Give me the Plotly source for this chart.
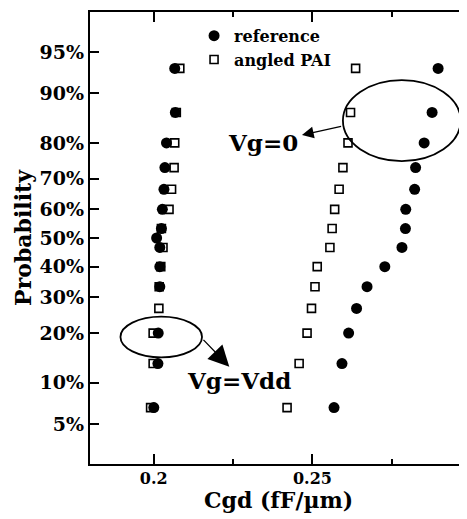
import plotly.graph_objects as go
from statistics import NormalDist

# ---------------- data ----------------
# probability (%) levels of each point
prob_vg0 = [6.67, 13.33, 20.0, 26.67, 33.33, 40.0, 46.67, 53.33, 60.0, 66.67, 73.33, 80.0, 86.67, 93.33]
prob_ref_vdd = [6.67, 13.33, 20.0, 33.33, 40.0, 46.67, 50.0, 53.33, 60.0, 66.67, 73.33, 80.0, 86.67, 93.33]
prob_pai_vdd = [6.67, 13.33, 20.0, 26.67, 33.33, 40.0, 46.67, 53.33, 60.0, 66.67, 73.33, 80.0, 86.67, 93.33]

# Cgd values (fF/um)
ref_vdd = [0.2000, 0.2013, 0.2014, 0.2019, 0.2019, 0.2019, 0.2009, 0.2024, 0.2027, 0.2032, 0.2035, 0.2040, 0.2068, 0.2066]
ref_vg0 = [0.2568, 0.2593, 0.2614, 0.2639, 0.2672, 0.2728, 0.2782, 0.2793, 0.2794, 0.2822, 0.2825, 0.2852, 0.2877, 0.2896]
pai_vdd = [0.1990, 0.1998, 0.1998, 0.2016, 0.2017, 0.2022, 0.2029, 0.2024, 0.2048, 0.2056, 0.2064, 0.2066, 0.2071, 0.2082]
pai_vg0 = [0.2420, 0.2458, 0.2483, 0.2497, 0.2508, 0.2515, 0.2555, 0.2562, 0.2570, 0.2584, 0.2596, 0.2612, 0.2620, 0.2636]

prob_ticks = [5, 10, 20, 30, 40, 50, 60, 70, 80, 90, 95]
prob_tick_text = ["5%", "10%", "20%", "30%", "40%", "50%", "60%", "70%", "80%", "90%", "95%"]
x_ticks = [0.2, 0.25]
x_tick_text = ["0.2", "0.25"]
x_minor = [0.225, 0.275]

# ---------------- helpers ----------------
nd = NormalDist()
def z(p_list):
    return [nd.inv_cdf(p / 100.0) for p in p_list]

FONT = "DejaVu Serif"
BLACK = "black"

fig = go.Figure()

fig.add_trace(go.Scatter(
    x=pai_vdd + pai_vg0, y=z(prob_pai_vdd) + z(prob_vg0),
    mode="markers", name="angled PAI", legendrank=2,
    marker=dict(symbol="square", size=8, color="white", line=dict(color=BLACK, width=1.6)),
))
fig.add_trace(go.Scatter(
    x=ref_vdd + ref_vg0, y=z(prob_ref_vdd) + z(prob_vg0),
    mode="markers", name="reference", legendrank=1,
    marker=dict(symbol="circle", size=11, color=BLACK, line=dict(width=0)),
))
# invisible trace to activate right-side tick axis
fig.add_trace(go.Scatter(x=[None], y=[None], yaxis="y2", showlegend=False, hoverinfo="skip"))

yr = [-2.0, 2.0]
xr = [0.1799, 0.2987]

# page body has an 8px margin, so the figure is sized/offset to compensate
fig.update_layout(
    width=459, height=511,
    margin=dict(l=82, r=0, t=4, b=55, autoexpand=False),
    paper_bgcolor="white", plot_bgcolor="white",
    showlegend=True,
    legend=dict(x=0.276, y=0.985, xanchor="left", yanchor="top",
                bgcolor="rgba(0,0,0,0)", borderwidth=0,
                font=dict(family=FONT, size=16, color=BLACK, weight="bold"),
                tracegroupgap=0, itemsizing="trace"),
    xaxis=dict(range=xr, tickvals=x_ticks, ticktext=x_tick_text, automargin=False,
               ticks="inside", ticklen=10, tickwidth=1.5, tickcolor=BLACK,
               minor=dict(tickvals=x_minor, ticks="inside", ticklen=5, tickwidth=1.5, tickcolor=BLACK),
               showline=True, linewidth=2.2, linecolor=BLACK, mirror="ticks",
               showgrid=False, zeroline=False, ticklabelstandoff=-1,
               tickfont=dict(family=FONT, size=16, color=BLACK, weight="bold")),
    yaxis=dict(range=yr, tickvals=z(prob_ticks), ticktext=prob_tick_text, automargin=False,
               ticks="inside", ticklen=9, tickwidth=1.5, tickcolor=BLACK,
               showline=True, linewidth=2.2, linecolor=BLACK, mirror=False,
               showgrid=False, zeroline=False,
               tickfont=dict(family=FONT, size=19, color=BLACK, weight="bold"),
               title=dict(text="Probability", standoff=2,
                          font=dict(family=FONT, size=22, color=BLACK, weight="bold"))),
    yaxis2=dict(range=yr, overlaying="y", side="right", tickvals=z(prob_ticks), automargin=False,
                ticks="inside", ticklen=6, tickwidth=1.5, tickcolor=BLACK,
                showticklabels=False, showline=False, showgrid=False, zeroline=False),
)

# x-axis title
fig.add_annotation(x=0.5, y=-0.08, xref="paper", yref="paper", yanchor="middle",
                   text="<b>Cgd (fF/µm)</b>", showarrow=False,
                   font=dict(family=FONT, size=22, color=BLACK))

# ellipses
fig.add_shape(type="circle", xref="x", yref="y", x0=0.2596, x1=0.2967, y0=0.681, y1=1.398,
              line=dict(color=BLACK, width=1.8))
fig.add_shape(type="circle", xref="x", yref="y", x0=0.1895, x1=0.2152, y0=-1.056, y1=-0.696,
              line=dict(color=BLACK, width=1.8))

# arrows
fig.add_annotation(x=0.2467, y=0.912, ax=0.2595, ay=0.991, xref="x", yref="y", axref="x", ayref="y",
                   text="", showarrow=True, arrowhead=2, arrowsize=1.8, arrowwidth=1.3, arrowcolor=BLACK)
fig.add_annotation(x=0.2238, y=-1.139, ax=0.2152, ay=-0.888, xref="x", yref="y", axref="x", ayref="y",
                   text="", showarrow=True, arrowhead=2, arrowsize=3.2, arrowwidth=1.3, arrowcolor=BLACK)

# labels
fig.add_annotation(x=0.2345, y=0.841, xref="x", yref="y", text="<b>Vg=0</b>", showarrow=False,
                   font=dict(family=FONT, size=23, color=BLACK))
fig.add_annotation(x=0.2270, y=-1.265, xref="x", yref="y", text="<b>Vg=Vdd</b>", showarrow=False,
                   font=dict(family=FONT, size=23, color=BLACK))

fig.write_html("out.html")
